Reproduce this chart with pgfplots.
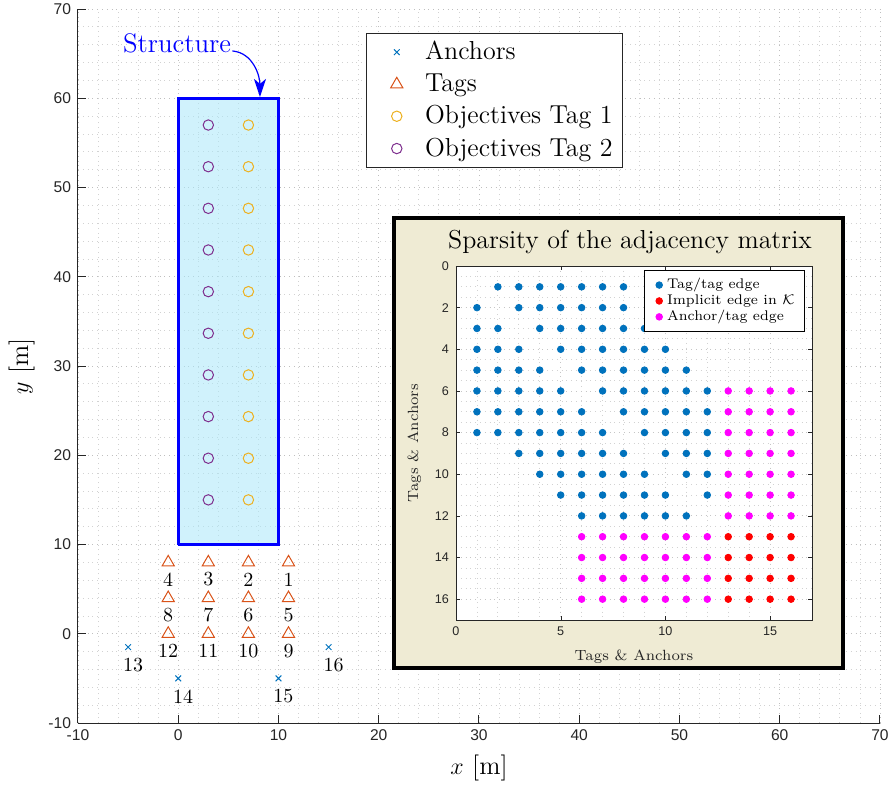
\documentclass[border=0pt]{standalone}
\usepackage{fontspec}
\usepackage{pgfplots}
\pgfplotsset{compat=1.18}
\usetikzlibrary{arrows.meta}
\newfontfamily\ticksans{Liberation Sans}
\definecolor{mblue}{RGB}{0,114,189}
\definecolor{morange}{RGB}{217,83,25}
\definecolor{myellow}{RGB}{237,177,32}
\definecolor{mpurple}{RGB}{126,47,142}
\definecolor{structfill}{RGB}{170,232,250}
\definecolor{insetbg}{RGB}{239,235,212}
\definecolor{axgray}{RGB}{38,38,38}
\definecolor{pmagenta}{RGB}{255,0,255}
\definecolor{pred}{RGB}{255,0,0}
\begin{document}
\begin{tikzpicture}
\begin{axis}[
  at={(0,0)}, anchor=south west,
  scale only axis, width=401pt, height=357pt,
  xmin=-10, xmax=70, ymin=-10, ymax=70,
  xtick={-10,0,...,70}, ytick={-10,0,...,70},
  minor tick num=4,
  axis x line*=bottom, axis y line*=left,
  axis line style={-, axgray, line width=0.5pt},
  tick align=inside,
  major tick length=4pt, minor tick length=0pt,
  tick style={axgray, line width=0.5pt},
  grid=both,
  major grid style={dotted, gray!50, line width=0.4pt},
  minor grid style={dotted, gray!35, line width=0.4pt},
  /pgf/number format/assume math mode=true,
  ticklabel style={font=\ticksans\fontsize{7.8}{9}\selectfont, text=axgray},
  xlabel={$x$ [m]}, ylabel={$y$ [m]},
  label style={font=\fontsize{13}{15}\selectfont},
  legend style={at={(0.6796,0.9664)}, anchor=north east, draw=axgray,
    font=\fontsize{13}{15}\selectfont, row sep=1.5pt},
  legend cell align=left,
  every axis plot post/.append style={legend image code/.code={\path (0cm,0cm) (0.84cm,0cm); \draw[mark repeat=2,mark phase=2,##1] plot coordinates {(0cm,0cm) (0.42cm,0cm) (0.84cm,0cm)};}},
]
% structure
\addplot[forget plot, draw=blue, line width=1.5pt, fill=structfill, fill opacity=0.55, draw opacity=1]
  coordinates {(0,10) (10,10) (10,60) (0,60) (0,10)};
% anchors
\addplot[only marks, mark=x, mark size=2pt, color=mblue, mark options={line width=0.5pt},
  nodes near coords, point meta=explicit symbolic,
  every node near coord/.append style={anchor=center, xshift=2.5pt, yshift=-9pt, text=black, font=\fontsize{10}{12}\selectfont}]
  table[meta=lab] {
x y lab
-5 -1.5 13
0 -5 14
10 -5 15
15 -1.5 16
};
\addlegendentry{Anchors}
% tags
\addplot[only marks, mark=triangle, mark size=3.5pt, color=morange, mark options={line width=0.5pt},
  nodes near coords, point meta=explicit symbolic,
  every node near coord/.append style={anchor=center, yshift=-8.5pt, text=black, font=\fontsize{10}{12}\selectfont}]
  table[meta=lab] {
x y lab
11 8 1
7 8 2
3 8 3
-1 8 4
11 4 5
7 4 6
3 4 7
-1 4 8
11 0 9
7 0 10
3 0 11
-1 0 12
};
\addlegendentry{Tags}
% objectives
\addplot[only marks, mark=o, mark size=2.6pt, color=myellow, mark options={line width=0.5pt}]
  coordinates {(7,15) (7,19.667) (7,24.333) (7,29) (7,33.667) (7,38.333) (7,43) (7,47.667) (7,52.333) (7,57)};
\addlegendentry{Objectives Tag 1}
\addplot[only marks, mark=o, mark size=2.6pt, color=mpurple, mark options={line width=0.5pt}]
  coordinates {(3,15) (3,19.667) (3,24.333) (3,29) (3,33.667) (3,38.333) (3,43) (3,47.667) (3,52.333) (3,57)};
\addlegendentry{Objectives Tag 2}
\node[blue, font=\fontsize{13.4}{15}\selectfont, anchor=east, inner sep=0pt] at (axis cs:5.3,66.1) {Structure};
\draw[blue, line width=0.6pt, -{Stealth[length=9pt, width=6pt, inset=2.5pt]}]
  (axis cs:5.4,65.3) to[out=-5, in=90] (axis cs:8.15,60.15);
\end{axis}
% inset box
\fill[insetbg] (158pt,27.5pt) rectangle (382.5pt,252.5pt);
\draw[black, line width=2pt] (158pt,27.5pt) rectangle (382.5pt,252.5pt);
\begin{axis}[
  at={(189pt,51.5pt)}, anchor=south west,
  scale only axis, width=178pt, height=177pt,
  xmin=0, xmax=17, ymin=0, ymax=17, y dir=reverse,
  xtick={0,5,10,15}, ytick={0,2,...,16},
  minor x tick num=4, minor y tick num=3,
  tick align=inside, major tick length=1.8pt, minor tick length=0pt,
  axis line style={axgray}, tick style={axgray},
  axis background/.style={fill=white},
  grid=both,
  major grid style={dotted, gray!45, line width=0.4pt},
  minor grid style={dotted, gray!35, line width=0.4pt},
  /pgf/number format/assume math mode=true,
  ticklabel style={font=\ticksans\fontsize{6.3}{7.5}\selectfont, text=axgray},
  xlabel={Tags \& Anchors}, ylabel={Tags \& Anchors},
  label style={font=\fontsize{7.4}{9}\selectfont, text=axgray},
  title={Sparsity of the adjacency matrix},
  title style={font=\fontsize{13}{15}\selectfont, yshift=-3.5pt, xshift=-2pt},
  legend style={at={(0.98,0.989)}, anchor=north east, draw=black,
    font=\fontsize{7}{8}\selectfont, row sep=-2.6pt},
  legend cell align=left,
  every axis plot post/.append style={legend image code/.code={\path (0cm,0cm) (0.2cm,0cm); \draw[mark repeat=2,mark phase=2,##1] plot coordinates {(0cm,0cm) (0.14cm,0cm) (0.28cm,0cm)};}},
]
\addplot[only marks, mark=*, mark size=1.65pt, color=mblue] coordinates {
(2,1)(3,1)(4,1)(5,1)(6,1)(7,1)(8,1)
(1,2)(3,2)(4,2)(5,2)(6,2)(7,2)(8,2)
(1,3)(2,3)(4,3)(5,3)(6,3)(7,3)(8,3)(9,3)
(1,4)(2,4)(3,4)(5,4)(6,4)(7,4)(8,4)(9,4)(10,4)
(1,5)(2,5)(3,5)(4,5)(6,5)(7,5)(8,5)(9,5)(10,5)(11,5)
(1,6)(2,6)(3,6)(4,6)(5,6)(7,6)(8,6)(9,6)(10,6)(11,6)(12,6)
(1,7)(2,7)(3,7)(4,7)(5,7)(6,7)(8,7)(9,7)(10,7)(11,7)(12,7)
(1,8)(2,8)(3,8)(4,8)(5,8)(6,8)(7,8)(9,8)(10,8)(11,8)(12,8)
(3,9)(4,9)(5,9)(6,9)(7,9)(8,9)(10,9)(11,9)(12,9)
(4,10)(5,10)(6,10)(7,10)(8,10)(9,10)(11,10)(12,10)
(5,11)(6,11)(7,11)(8,11)(9,11)(10,11)(12,11)
(6,12)(7,12)(8,12)(9,12)(10,12)(11,12)
};
\addlegendentry{Tag/tag edge}
\addplot[only marks, mark=*, mark size=1.65pt, color=pred] coordinates {
(13,13)(14,13)(15,13)(16,13)
(13,14)(14,14)(15,14)(16,14)
(13,15)(14,15)(15,15)(16,15)
(13,16)(14,16)(15,16)(16,16)
};
\addlegendentry{Implicit edge in $\mathcal{K}$}
\addplot[only marks, mark=*, mark size=1.65pt, color=pmagenta] coordinates {
(13,6)(14,6)(15,6)(16,6)
(13,7)(14,7)(15,7)(16,7)
(13,8)(14,8)(15,8)(16,8)
(13,9)(14,9)(15,9)(16,9)
(13,10)(14,10)(15,10)(16,10)
(13,11)(14,11)(15,11)(16,11)
(13,12)(14,12)(15,12)(16,12)
(6,13)(7,13)(8,13)(9,13)(10,13)(11,13)(12,13)
(6,14)(7,14)(8,14)(9,14)(10,14)(11,14)(12,14)
(6,15)(7,15)(8,15)(9,15)(10,15)(11,15)(12,15)
(6,16)(7,16)(8,16)(9,16)(10,16)(11,16)(12,16)
};
\addlegendentry{Anchor/tag edge}
\end{axis}
\pgfresetboundingbox
\path (-39pt,-33pt) rectangle (406.5pt,361.5pt);
\end{tikzpicture}
\end{document}
